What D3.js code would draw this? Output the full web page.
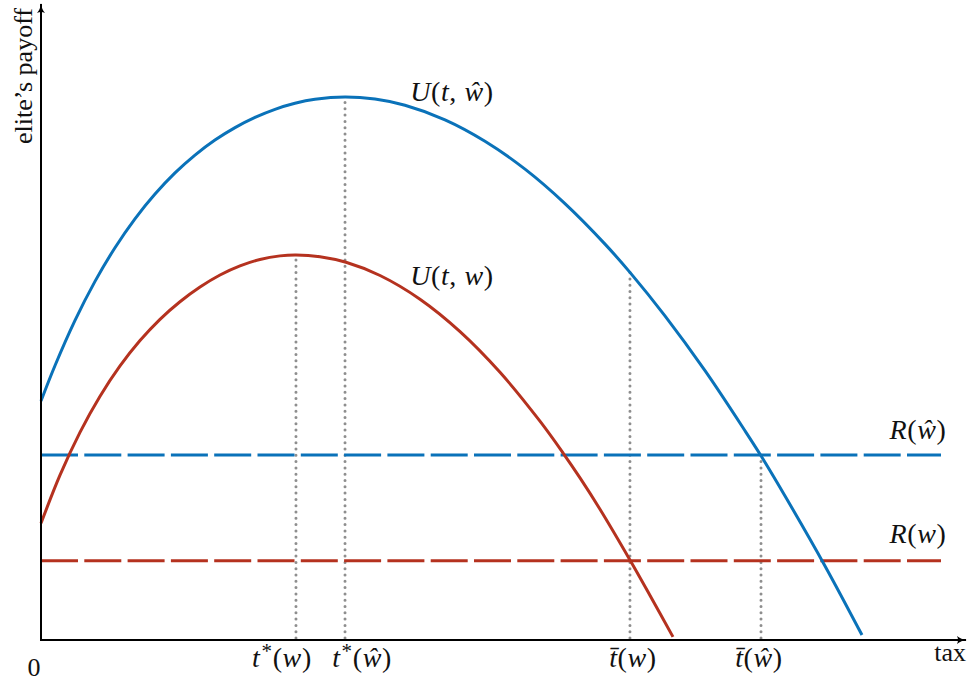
<!DOCTYPE html>
<html>
<head>
<meta charset="utf-8">
<script src="https://cdn.jsdelivr.net/npm/d3@7"></script>
<style>
  html, body { margin: 0; padding: 0; background: #fff; }
  svg { display: block; }
  text { font-family: "Liberation Serif", "Times New Roman", serif; fill: #111; }
</style>
</head>
<body>
<svg id="chart" width="969" height="682"></svg>
<script>
// ---- data ----
const taxHigh = [0, 1.56, 3.78, 6, 8.22, 10.44, 12.67, 14.89, 17.11, 19.33, 21.56, 23.78, 26, 28.22, 30.44, 33.78, 37.11, 40.44, 44.89, 49.33, 53.78, 58.22, 62.67, 65.44, 69.33, 73.78, 78.22, 80, 82.67, 87.11, 91.22];
const payoffHigh = [39.83, 45.75, 53.27, 59.77, 65.38, 70.2, 74.33, 77.85, 80.82, 83.33, 85.4, 87.1, 88.45, 89.45, 90.12, 90.5, 90.15, 89.12, 86.7, 83.13, 78.47, 72.73, 65.98, 61.27, 54.02, 44.88, 34.87, 30.7, 24, 12.35, 0.83];
const taxLow = [0, 2.11, 4.33, 6.56, 8.78, 11, 13.22, 15.44, 17.67, 19.89, 22.11, 24.33, 26.56, 28.33, 31, 33.89, 37.67, 42.11, 46.56, 51, 55.44, 58.03, 59.89, 62.11, 65.44, 67.67, 70.22];
const payoffLow = [19.45, 27.47, 34.6, 40.62, 45.67, 49.9, 53.45, 56.38, 58.83, 60.83, 62.35, 63.42, 64.02, 64.17, 63.88, 62.95, 60.75, 56.8, 51.4, 44.62, 36.47, 31.12, 27.02, 21.8, 13.35, 7.43, 0.52];
const reservationHigh = 30.83;   // R(ŵ)
const reservationLow = 13.22;    // R(w)
const reservationSpan = [0, 100];
const tickValues = [28.33, 33.78, 65.44, 80];
const tickTops = [64.17, 90.5, 61.27, 30.83];
const tickLabels = [
  [["t", "i"], ["*", "sup"], ["(", "r"], ["w", "i"], [")", "r"]],
  [["t", "i"], ["*", "sup"], ["(", "r"], ["ŵ", "i"], [")", "r"]],
  [["t\u0304", "i"], ["(", "r"], ["w", "i"], [")", "r"]],
  [["t\u0304", "i"], ["(", "r"], ["ŵ", "i"], [")", "r"]]
];
const curveLabels = [
  [["U", "i"], ["(", "r"], ["t", "i"], [", ", "r"], ["ŵ", "i"], [")", "r"]],
  [["U", "i"], ["(", "r"], ["t", "i"], [", ", "r"], ["w", "i"], [")", "r"]]
];
const lineLabels = [
  [["R", "i"], ["(", "r"], ["ŵ", "i"], [")", "r"]],
  [["R", "i"], ["(", "r"], ["w", "i"], [")", "r"]]
];
const xAxisTitle = "tax";
const yAxisTitle = "elite’s payoff";
const originLabel = "0";

// ---- drawing ----
const blue = "#0a72b9";
const red = "#b5321f";
const svg = d3.select("#chart");
const x = d3.scaleLinear().domain([0, 100]).range([41, 941]);
const y = d3.scaleLinear().domain([0, 100]).range([640, 40]);

const defs = svg.append("defs");
defs.append("marker").attr("id", "arrow")
  .attr("viewBox", "0 -5 10 10").attr("refX", 9).attr("refY", 0)
  .attr("markerWidth", 10).attr("markerHeight", 10).attr("markerUnits", "userSpaceOnUse")
  .attr("orient", "auto")
  .append("path").attr("d", "M0,-4 Q4,-0.5 10,0 Q4,0.5 0,4 Q2,0 0,-4Z").attr("fill", "#000");

// dotted guides
svg.append("g").selectAll("line").data(tickValues).join("line")
  .attr("x1", d => x(d)).attr("x2", d => x(d))
  .attr("y1", y(0) - 2).attr("y2", (d, i) => y(tickTops[i]))
  .attr("stroke", "#8e8e8e").attr("stroke-width", 3)
  .attr("stroke-dasharray", "0,6.3").attr("stroke-linecap", "round");

// dashed reservation lines
[[reservationHigh, blue], [reservationLow, red]].forEach(([v, c]) => {
  svg.append("line")
    .attr("x1", x(reservationSpan[0])).attr("x2", x(reservationSpan[1]))
    .attr("y1", y(v)).attr("y2", y(v))
    .attr("stroke", c).attr("stroke-width", 3)
    .attr("stroke-dasharray", "37,6.3");
});

// curves
const line = d3.line().x(d => x(d[0])).y(d => y(d[1])).curve(d3.curveCatmullRom.alpha(0.5));
svg.append("path").datum(d3.zip(taxHigh, payoffHigh))
  .attr("d", line).attr("fill", "none").attr("stroke", blue).attr("stroke-width", 3);
svg.append("path").datum(d3.zip(taxLow, payoffLow))
  .attr("d", line).attr("fill", "none").attr("stroke", red).attr("stroke-width", 3);

// axes
svg.append("line").attr("x1", x(0)).attr("x2", 966).attr("y1", y(0)).attr("y2", y(0))
  .attr("stroke", "#000").attr("stroke-width", 2).attr("marker-end", "url(#arrow)");
svg.append("line").attr("x1", x(0)).attr("x2", x(0)).attr("y1", y(0) + 1).attr("y2", 4)
  .attr("stroke", "#000").attr("stroke-width", 2).attr("marker-end", "url(#arrow)");

function mathText(sel, parts) {
  parts.forEach(([t, s]) => {
    const ts = sel.append("tspan").text(t);
    if (s === "i") ts.attr("font-style", "italic");
    if (s === "sup") ts.attr("font-size", "0.75em").attr("dy", "-0.45em").attr("dx", "0.05em");
    if (s === "r" && ts.node().previousSibling && ts.node().previousSibling.getAttribute("dy")) ts.attr("dy", "0.34em");
  });
}

const fs = 26;
const mfs = 28;
const nudges = [-14, 17, 3, -2];
tickLabels.forEach((parts, i) => {
  const t = svg.append("text").attr("x", x(tickValues[i]) + nudges[i]).attr("y", 667)
    .attr("text-anchor", "middle").attr("font-size", mfs).attr("letter-spacing", 0.6);
  mathText(t, parts);
});

[[curveLabels[0], 452, 101], [curveLabels[1], 452, 285]].forEach(([p, cx, cy]) => {
  const t = svg.append("text").attr("x", cx).attr("y", cy).attr("text-anchor", "middle")
    .attr("font-size", mfs).attr("letter-spacing", 0.6);
  mathText(t, p);
});
[[lineLabels[0], 918, 439], [lineLabels[1], 918, 543]].forEach(([p, cx, cy]) => {
  const t = svg.append("text").attr("x", cx).attr("y", cy).attr("text-anchor", "middle")
    .attr("font-size", mfs).attr("letter-spacing", 0.6);
  mathText(t, p);
});

svg.append("text").attr("x", 34).attr("y", 676).attr("text-anchor", "middle").attr("font-size", fs).text(originLabel);
svg.append("text").attr("x", 966).attr("y", 661).attr("text-anchor", "end").attr("font-size", fs).text(xAxisTitle);
svg.append("text").attr("transform", "translate(32,76) rotate(-90)").attr("text-anchor", "middle")
  .attr("font-size", fs).text(yAxisTitle);
</script>
</body>
</html>
